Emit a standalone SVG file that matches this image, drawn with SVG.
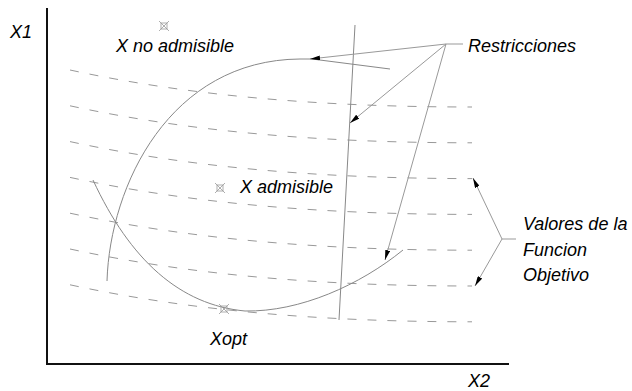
<svg xmlns="http://www.w3.org/2000/svg" width="632" height="391" viewBox="0 0 632 391">
  <style>
    .lbl { font-family: "Liberation Sans", Arial, sans-serif; font-style: italic; font-size: 18px; fill: #000; }
    .axis { stroke: #111; stroke-width: 2; fill: none; }
    .iso { stroke: #999; stroke-width: 1; stroke-dasharray: 9 11; fill: none; }
    .con { stroke: #888; stroke-width: 1; fill: none; }
    .lead { stroke: #999; stroke-width: 1; fill: none; }
    .pt rect, .pt line { stroke: #999; stroke-width: 0.8; fill: none; }
  </style>
  <defs>
    <marker id="arr" viewBox="0 0 10 5" refX="10" refY="2.5" markerWidth="10" markerHeight="5" markerUnits="userSpaceOnUse" orient="auto">
      <path d="M0,0 L10,2.5 L0,5 z" fill="#000"/>
    </marker>
    <path id="isoline" d="M70,70 C190,96 322,107 472,107"/>
    <g id="xmark" class="pt">
      <rect x="-3" y="-3" width="6" height="6"/>
      <line x1="-5" y1="-5" x2="5" y2="5"/>
      <line x1="-5" y1="5" x2="5" y2="-5"/>
    </g>
  </defs>

  <rect width="632" height="391" fill="#fff"/>

  <!-- axes -->
  <g id="axes">
    <path class="axis" d="M47,8 L47,364 L509,364"/>
    <text class="lbl" x="10" y="38">X1</text>
    <text class="lbl" x="468" y="387">X2</text>
  </g>

  <!-- objective function level curves -->
  <g id="isolines" class="iso">
    <use href="#isoline"/>
    <use href="#isoline" transform="translate(0,35.8)"/>
    <use href="#isoline" transform="translate(0,71.6)"/>
    <use href="#isoline" transform="translate(0,107.4)"/>
    <use href="#isoline" transform="translate(0,143.2)"/>
    <use href="#isoline" transform="translate(0,179)"/>
    <use href="#isoline" transform="translate(0,214.8)"/>
  </g>

  <!-- constraint boundaries -->
  <g id="constraints" class="con">
    <path d="M107,281 C110,185 170,60 300,59 L312,59 L390,69"/>
    <path d="M355,25 L339,320"/>
    <path d="M93,180 C130,260 180,305 245,311 C300,312 360,285 403,250"/>
  </g>

  <!-- points -->
  <g id="point-no-admisible">
    <use href="#xmark" transform="translate(164,26)"/>
    <text class="lbl" x="116" y="52">X no admisible</text>
  </g>
  <g id="point-admisible">
    <use href="#xmark" transform="translate(220,188)"/>
    <text class="lbl" x="240" y="193">X admisible</text>
  </g>
  <g id="point-opt">
    <use href="#xmark" transform="translate(224,309)"/>
    <text class="lbl" x="210" y="345">Xopt</text>
  </g>

  <!-- callouts -->
  <g id="restricciones">
    <text class="lbl" x="468" y="52">Restricciones</text>
  </g>
  <g id="valores">
    <text class="lbl" x="523" y="230">Valores de la</text>
    <text class="lbl" x="523" y="256">Funcion</text>
    <text class="lbl" x="523" y="281">Objetivo</text>
  </g>

  <g id="connectors" class="lead">
    <path d="M463,44 L446,44"/>
    <path d="M446,44 L310,59" marker-end="url(#arr)"/>
    <path d="M446,44 L350,123" marker-end="url(#arr)"/>
    <path d="M446,44 L385,260" marker-end="url(#arr)"/>
    <path d="M516,239 L502,239"/>
    <path d="M502,239 L473,178" marker-end="url(#arr)"/>
    <path d="M502,239 L475,286" marker-end="url(#arr)"/>
  </g>
</svg>
